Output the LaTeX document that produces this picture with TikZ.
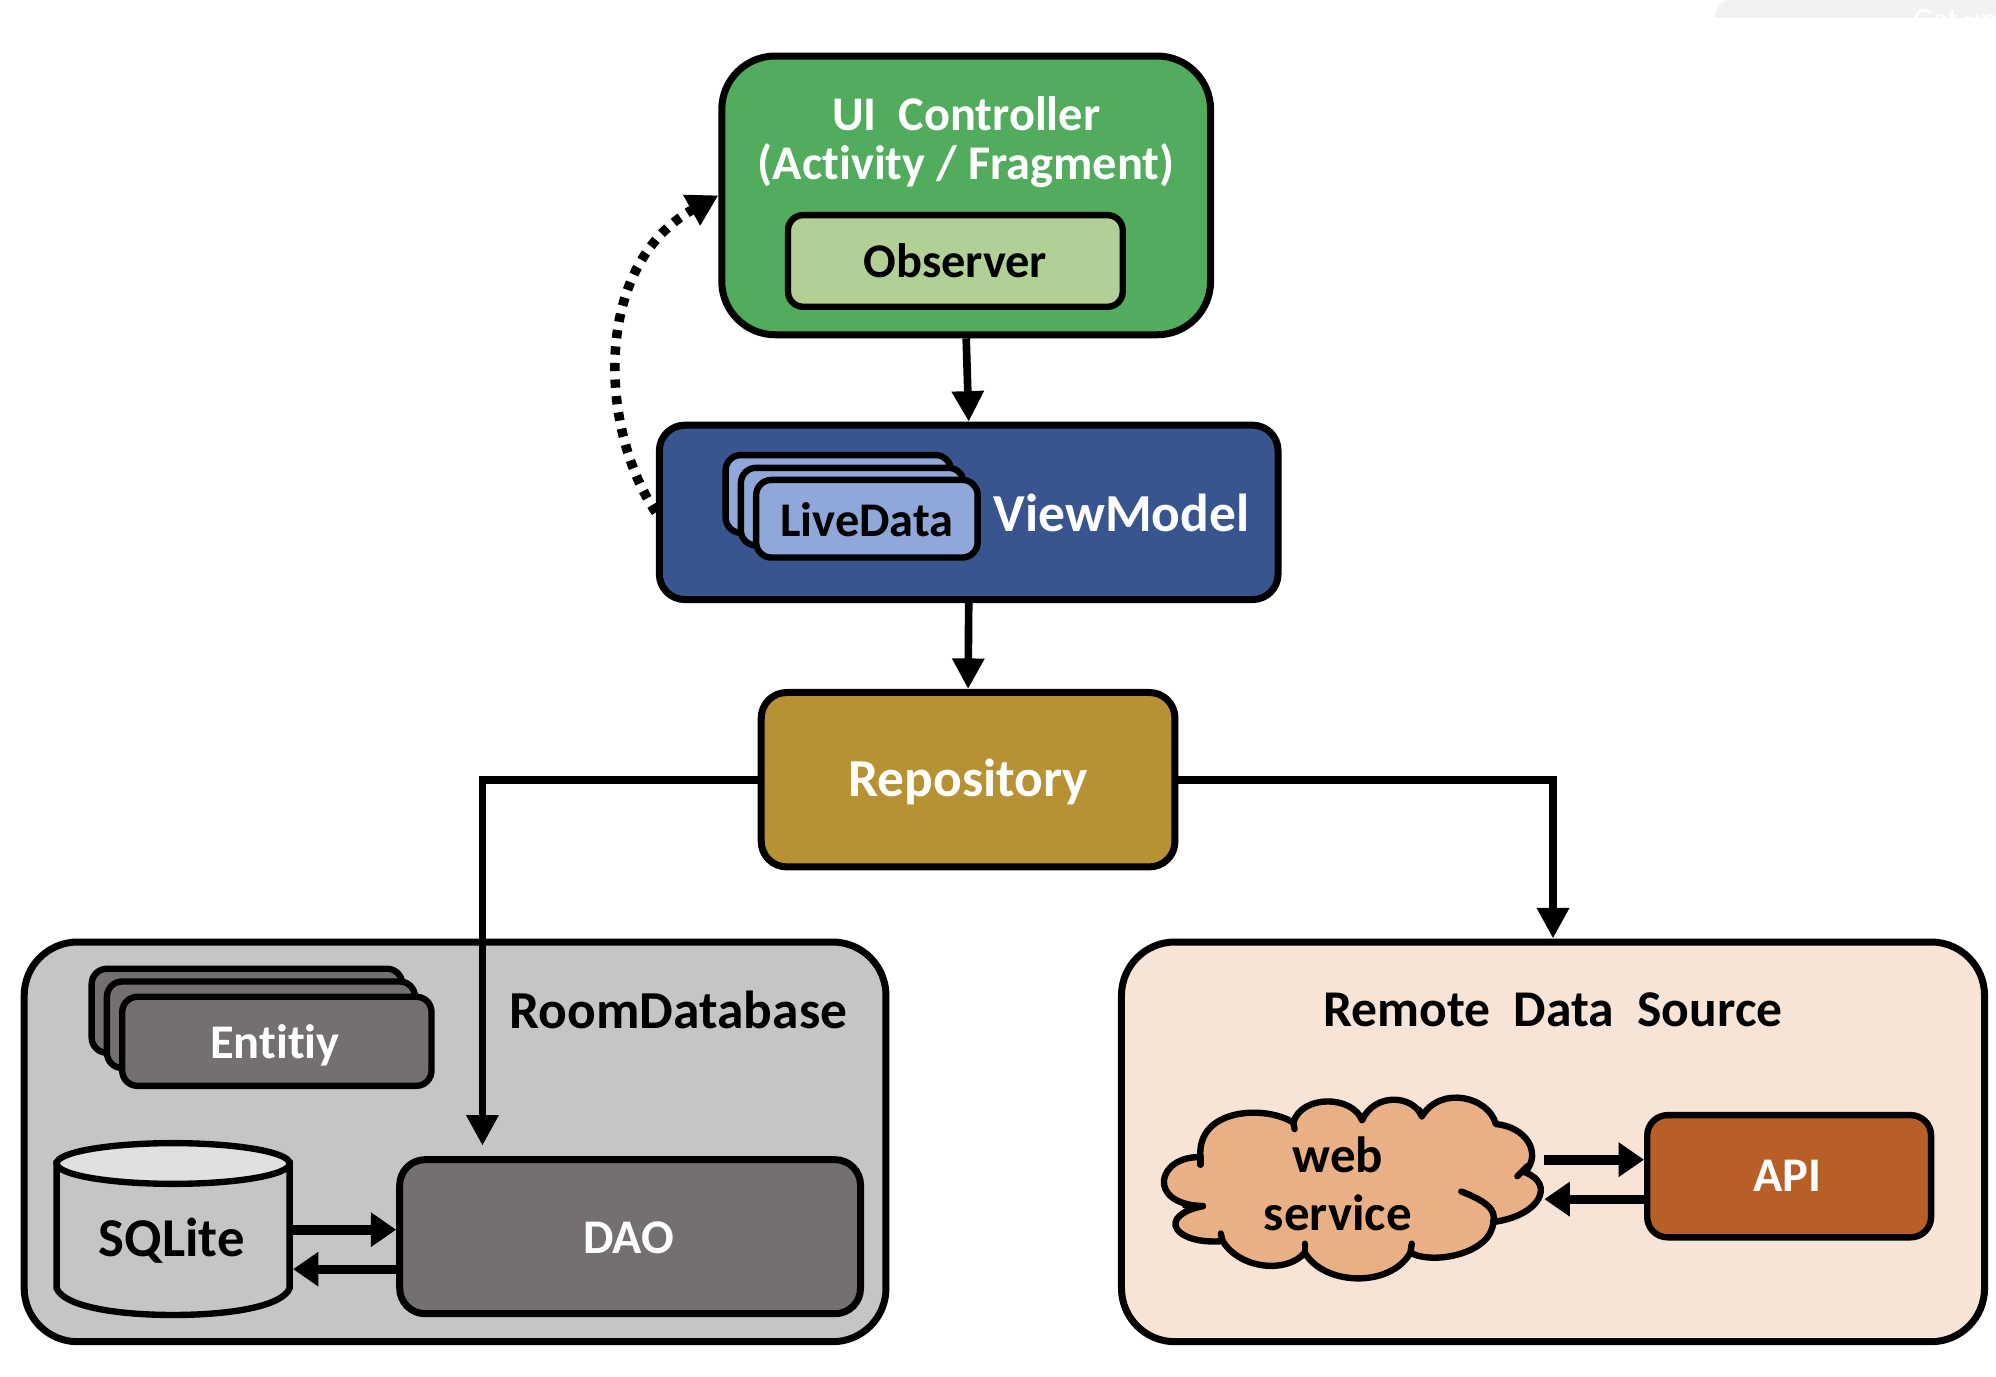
\documentclass[tikz,border=0pt]{standalone}
\usepackage{fontspec}
\setmainfont{Carlito}[Ligatures=NoCommon]
\usetikzlibrary{arrows.meta,calc}
\definecolor{cUI}{HTML}{51AC5D}
\definecolor{cObs}{HTML}{B2D096}
\definecolor{cVM}{HTML}{385590}
\definecolor{cLD}{HTML}{8FA8D9}
\definecolor{cRepo}{HTML}{B79232}
\definecolor{cRoom}{HTML}{C5C5C5}
\definecolor{cDark}{HTML}{747070}
\definecolor{cRemote}{HTML}{F6E4D6}
\definecolor{cCloud}{HTML}{EAB085}
\definecolor{cAPI}{HTML}{B85F27}
\definecolor{cTop}{HTML}{E0E0E0}
\tikzset{
  box/.style={draw=black,line width=5.5pt,inner sep=0pt,anchor=center},
  big/.style={box,rounded corners=42pt},
  mid/.style={box,rounded corners=20pt},
  small/.style={box,line width=5pt,rounded corners=12pt},
  lab/.style={inner sep=0pt,font=\bfseries\fontsize{38}{39}\selectfont,align=center,anchor=center},
  wlab/.style={lab,text=white},
  arr/.style={line width=6pt,-{Triangle[width=24pt,length=24pt]}},
  harr/.style={line width=8pt,-{Triangle[width=26pt,length=20pt]}},
  dots/.style={line width=7.5pt,dash pattern=on 6.5pt off 6.5pt,-{Triangle[width=26pt,length=24pt]}}
}
\begin{document}
\begin{tikzpicture}[x=1pt,y=-1pt]
\useasboundingbox (0,0) rectangle (1568,1081);
% top right remnant of the screenshot
\begin{scope}
\clip (1340,0) rectangle (1568,14);
\fill[black!5] (1347,14) .. controls (1347,8) and (1350,3) .. (1356,0) -- (1568,0) -- (1568,14) -- cycle;
\node[inner sep=0pt,anchor=west,text=white,font=\fontsize{24}{30}\selectfont] (gu) at (1503,17) {Get up};
\end{scope}
% main boxes
\node[big,fill=cUI,minimum width=384pt,minimum height=219pt] (ui) at (759,153.5) {};
\node[small,fill=cObs,minimum width=263pt,minimum height=72pt] (obs) at (750.5,205) {};
\node[mid,fill=cVM,minimum width=486pt,minimum height=137pt] (vm) at (761,402.5) {};
\node[mid,fill=cRepo,minimum width=325pt,minimum height=137pt] (repo) at (760.5,612.5) {};
\node[big,fill=cRoom,minimum width=677pt,minimum height=314pt] (room) at (357.5,897) {};
\node[big,fill=cRemote,minimum width=678pt,minimum height=314pt] (remote) at (1220,897) {};
% LiveData stack
\node[small,fill=cLD,minimum width=177pt,minimum height=61pt] (ld1) at (658.5,388) {};
\node[small,fill=cLD,minimum width=175pt,minimum height=61pt] (ld2) at (669.5,398) {};
\node[small,fill=cLD,minimum width=174pt,minimum height=61pt] (ld3) at (681,407.5) {};
% Entity stack
\node[small,fill=cDark,minimum width=244pt,minimum height=66pt] (en1) at (194,794) {};
\node[small,fill=cDark,minimum width=242pt,minimum height=68pt] (en2) at (205,805) {};
\node[small,fill=cDark,minimum width=243pt,minimum height=70pt] (en3) at (217.5,818) {};
% DAO, API
\node[mid,fill=cDark,minimum width=362pt,minimum height=121pt] (dao) at (495,971.5) {};
\node[small,fill=cAPI,minimum width=223pt,minimum height=96pt,rounded corners=16pt] (api) at (1405.5,924) {};
% SQLite
\draw[line width=5pt,fill=cRoom] (44.5,914) -- (44.5,1012) .. controls (50,1026) and (90,1033) .. (136,1033)
   .. controls (182,1033) and (222,1026) .. (227.5,1012) -- (227.5,914) -- cycle;
\draw[line width=5pt,fill=cTop] (136,914) ellipse [x radius=91.5,y radius=16];
\node[inner sep=0pt,minimum width=188pt,minimum height=139pt] (sql) at (136,965.5) {};
% cloud
\draw[line width=5pt,fill=cCloud,line join=round]
 (943,909) .. controls (909,908) and (900,946) .. (945,947.5)
 .. controls (908,955) and (922,978) .. (960.5,975)
 .. controls (975,998) and (1012,1000) .. (1025,984)
 .. controls (1040,1010) and (1092,1012) .. (1108,984)
 .. controls (1125,994) and (1172,985) .. (1173,960)
 .. controls (1210,955) and (1222,930) .. (1198,921)
 .. controls (1212,905) and (1198,885) .. (1175,883)
 .. controls (1170,862) and (1132,852) .. (1117,877)
 .. controls (1110,860) and (1080,858) .. (1070,880)
 .. controls (1062,860) and (1022,860) .. (1016,882)
 .. controls (995,868) and (940,870) .. (943,909) -- cycle;
\draw[line width=5pt,line cap=round] (1148,936) .. controls (1166,943) and (1176,950) .. (1173,960);
\draw[line width=5pt,line cap=round] (1200,916) -- (1192,924);
\draw[line width=5pt,line cap=round] (1016,882) -- (1017,887);
\draw[line width=5pt,line cap=round] (1070,880) -- (1068,876);
\draw[line width=5pt,line cap=round] (1117,877) -- (1115,872);
\draw[line width=5pt,line cap=round] (943,909) -- (943,915);
\draw[line width=5pt,line cap=round] (945,947.5) -- (931,947);
\draw[line width=5pt,line cap=round] (960.5,975) -- (959,969);
\draw[line width=5pt,line cap=round] (1025,984) -- (1025,977);
\draw[line width=5pt,line cap=round] (1108,984) -- (1109,977);
\node[inner sep=0pt,minimum width=301pt,minimum height=143pt] (cloud) at (1062.5,933.5) {};
% labels
\node[wlab] (t1) at (759,112) {UI\ \ Controller\\[-0.5pt](Activity / Fragment)};
\node[lab] (t2) at (750.5,205) {Observer};
\node[lab] (t3) at (681,408.5) {LiveData};
\node[wlab,font=\bfseries\fontsize{42}{46}\selectfont] (t4) at (881,403) {ViewModel};
\node[wlab,font=\bfseries\fontsize{42}{46}\selectfont] (t5) at (760.5,614) {Repository};
\node[lab,font=\bfseries\fontsize{42}{46}\selectfont] (t6) at (533,793) {RoomDatabase};
\node[lab,font=\bfseries\fontsize{40.5}{44}\selectfont] (t7) at (1220,793) {Remote\ \ Data\ \ Source};
\node[wlab] (t8) at (216,821) {Entitiy};
\node[lab,font=\bfseries\fontsize{43}{46}\selectfont] (t9) at (135,975) {SQLite};
\node[wlab] (t10) at (494,972) {DAO};
\node[wlab] (t11) at (1404,924) {API};
\node[lab,font=\bfseries\fontsize{40}{45}\selectfont] (t12) at (1051,930) {web\\service};
% connectors
\draw[arr] (ui.south) -- (vm.north);
\draw[arr] (vm.south) -- (repo.north);
\coordinate (daoin) at (379,900);
\draw[arr] (repo.west) -| (daoin);
\draw[arr] (repo.east) -| (remote.north);
\coordinate (y1) at (0,966);
\coordinate (y2) at (0,997);
\coordinate (y3) at (0,911);
\coordinate (y4) at (0,942);
\draw[harr] (sql.east |- y1) -- (dao.west |- y1);
\draw[harr,line width=7pt] (dao.west |- y2) -- (sql.east |- y2);
\draw[harr] (cloud.east |- y3) -- (api.west |- y3);
\draw[harr,line width=7pt] (api.west |- y4) -- (cloud.east |- y4);
\draw[dots] (vm.west) .. controls (470,335) and (466,208) .. (ui.west);
\end{tikzpicture}
\end{document}
